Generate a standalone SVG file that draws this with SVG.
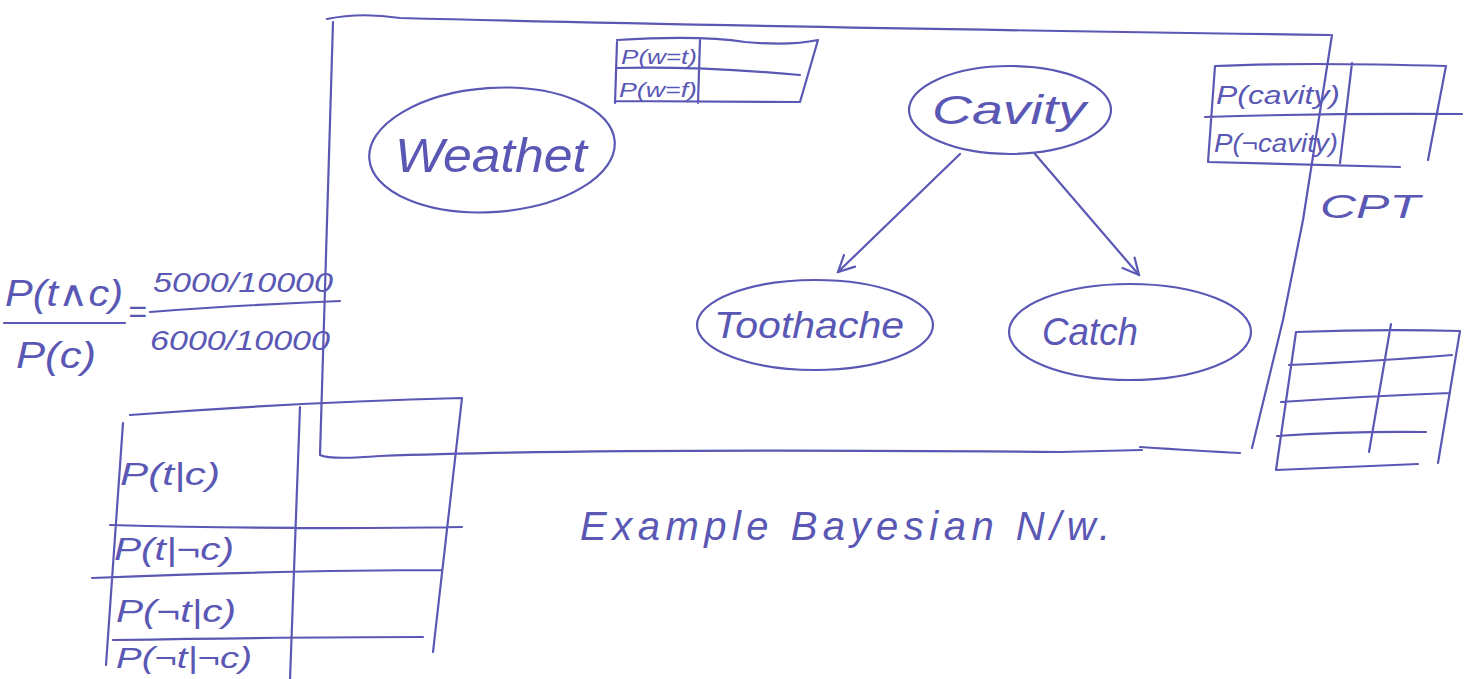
<svg xmlns="http://www.w3.org/2000/svg" width="1470" height="679" viewBox="0 0 1470 679">
<style>
.ink{fill:none;stroke:#5a58b4;stroke-width:2.2;stroke-linecap:round;stroke-linejoin:round}
.t{fill:#5a58b4;font-family:"Liberation Sans","DejaVu Sans",sans-serif;font-style:italic}
</style>
<defs>
<marker id="ah" viewBox="0 0 20 20" refX="18" refY="10" markerWidth="20" markerHeight="20" markerUnits="userSpaceOnUse" orient="auto">
<path d="M2 2 L18 10 L2 18" fill="none" stroke="#5a58b4" stroke-width="2.2" stroke-linecap="round"/>
</marker>
</defs>
<rect width="1470" height="679" fill="#ffffff"/>

<g id="frame">
<path class="ink" d="M327 19 Q360 12 400 18 Q700 26 1330 35"/>
<path class="ink" d="M333 22 L320 455 Q330 460 380 456 Q600 448 1060 452 L1142 450 M1140 447 Q1200 451 1240 453"/>
<path class="ink" d="M1332 35 L1303 220 L1283 320 L1252 448"/>
</g>

<g id="weather">
<ellipse class="ink" cx="492" cy="150" rx="123" ry="62" transform="rotate(-4 492 150)"/>
<text class="t" x="395" y="172" font-size="48" textLength="192" lengthAdjust="spacingAndGlyphs">Weathet</text>
</g>

<g id="weather-table">
<path class="ink" d="M617 42 L615 103 M617 40 Q700 35 745 42 Q790 46 818 40 L800 102 M616 68 Q700 66 800 75 M615 101 L800 102 M700 40 L698 103"/>
<text class="t" x="621" y="64" font-size="20" textLength="76" lengthAdjust="spacingAndGlyphs">P(w=t)</text>
<text class="t" x="619" y="97" font-size="20" textLength="78" lengthAdjust="spacingAndGlyphs">P(w=f)</text>
</g>

<g id="cavity">
<ellipse class="ink" cx="1010" cy="110" rx="101" ry="44"/>
<text class="t" x="932" y="124" font-size="40" textLength="154" lengthAdjust="spacingAndGlyphs">Cavity</text>
</g>

<g id="toothache">
<ellipse class="ink" cx="815" cy="325" rx="118" ry="45"/>
<text class="t" x="714" y="338" font-size="36" textLength="190" lengthAdjust="spacingAndGlyphs">Toothache</text>
</g>

<g id="catch">
<ellipse class="ink" cx="1130" cy="332" rx="121" ry="48"/>
<text class="t" x="1042" y="345" font-size="38" textLength="96" lengthAdjust="spacingAndGlyphs">Catch</text>
</g>

<g id="connectors">
<path class="ink" d="M960 154 L838 272" marker-end="url(#ah)"/>
<path class="ink" d="M1035 154 L1139 275" marker-end="url(#ah)"/>
</g>

<g id="cavity-cpt">
<path class="ink" d="M1215 66 Q1300 62 1446 66 L1428 160 M1215 66 L1208 162 L1400 167 M1205 117 Q1330 113 1462 114 M1352 63 L1340 163"/>
<text class="t" x="1216" y="104" font-size="26" textLength="124" lengthAdjust="spacingAndGlyphs">P(cavity)</text>
<text class="t" x="1214" y="152" font-size="26" textLength="124" lengthAdjust="spacingAndGlyphs">P(¬cavity)</text>
<text class="t" x="1320" y="218" font-size="34" textLength="100" lengthAdjust="spacingAndGlyphs">CPT</text>
</g>

<g id="catch-cpt">
<path class="ink" d="M1296 332 Q1380 329 1460 331 L1438 463 M1296 332 L1276 470 Q1350 467 1418 464 M1289 365 Q1380 361 1452 355 M1281 402 Q1370 396 1450 393 M1277 436 Q1350 431 1426 432 M1391 324 L1369 452"/>
</g>

<g id="formula">
<text class="t" x="5" y="306" font-size="36" textLength="118" lengthAdjust="spacingAndGlyphs">P(t∧c)</text>
<path class="ink" d="M4 323 L125 323"/>
<text class="t" x="16" y="368" font-size="36" textLength="80" lengthAdjust="spacingAndGlyphs">P(c)</text>
<text class="t" x="128" y="322" font-size="32">=</text>
<text class="t" x="153" y="292" font-size="28" textLength="180" lengthAdjust="spacingAndGlyphs">5000/10000</text>
<path class="ink" d="M150 312 Q240 305 340 301"/>
<text class="t" x="150" y="350" font-size="28" textLength="180" lengthAdjust="spacingAndGlyphs">6000/10000</text>
</g>

<g id="tc-table">
<path class="ink" d="M130 415 Q300 402 462 398 L433 652 M123 423 L106 665 M300 407 L290 680 M110 525 Q300 530 462 527 M92 578 Q300 570 442 570 M113 640 Q300 637 423 637"/>
<text class="t" x="120" y="485" font-size="32" textLength="100" lengthAdjust="spacingAndGlyphs">P(t|c)</text>
<text class="t" x="114" y="560" font-size="32" textLength="120" lengthAdjust="spacingAndGlyphs">P(t|¬c)</text>
<text class="t" x="116" y="622" font-size="32" textLength="120" lengthAdjust="spacingAndGlyphs">P(¬t|c)</text>
<text class="t" x="116" y="668" font-size="30" textLength="136" lengthAdjust="spacingAndGlyphs">P(¬t|¬c)</text>
</g>

<text class="t" x="580" y="540" font-size="40" textLength="530" lengthAdjust="spacing">Example Bayesian N/w.</text>
</svg>
